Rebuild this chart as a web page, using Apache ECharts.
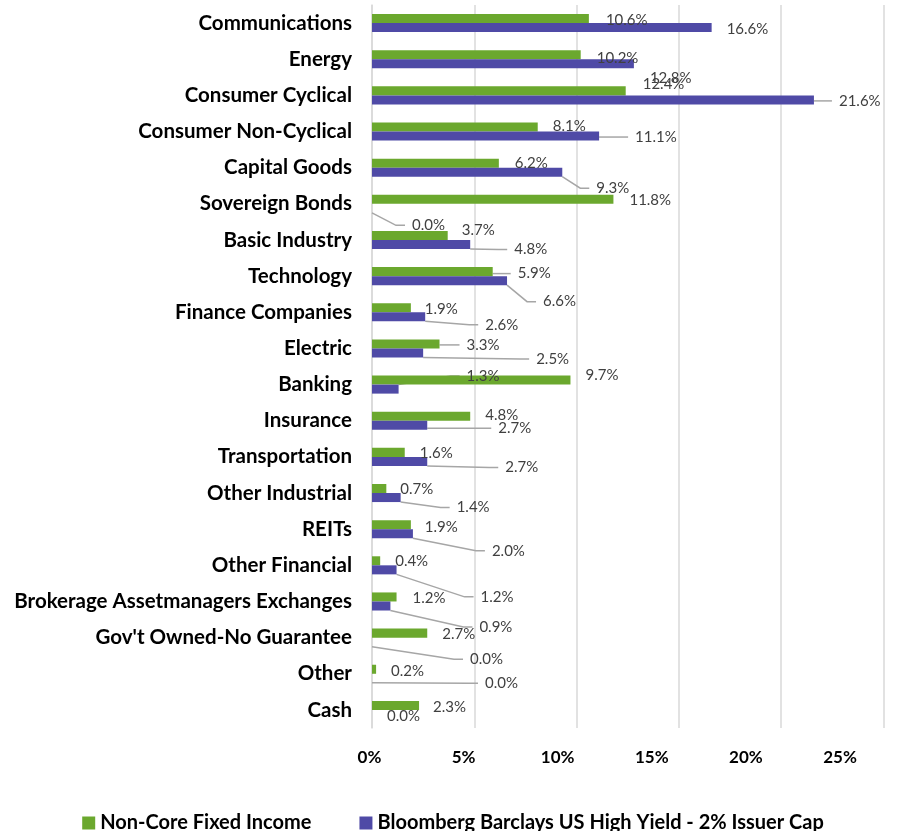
<!DOCTYPE html>
<html>
<head>
<meta charset="utf-8">
<script src="https://cdn.jsdelivr.net/npm/echarts@6/dist/echarts.min.js"></script>
<style>
html,body{margin:0;padding:0;background:#fff;}
#chart{width:906px;height:831px;}
</style>
</head>
<body>
<div id="chart"></div>
<script>
const categories = ["Communications","Energy","Consumer Cyclical","Consumer Non-Cyclical","Capital Goods","Sovereign Bonds","Basic Industry","Technology","Finance Companies","Electric","Banking","Insurance","Transportation","Other Industrial","REITs","Other Financial","Brokerage Assetmanagers Exchanges","Gov't Owned-No Guarantee","Other","Cash"];
const seriesNames = ["Non-Core Fixed Income","Bloomberg Barclays US High Yield - 2% Issuer Cap"];
const nonCore = [10.6,10.2,12.4,8.1,6.2,11.8,3.7,5.9,1.9,3.3,9.7,4.8,1.6,0.7,1.9,0.4,1.2,2.7,0.2,2.3];
const benchmark = [16.6,12.8,21.6,11.1,9.3,0.0,4.8,6.6,2.6,2.5,1.3,2.7,2.7,1.4,2.0,1.2,0.9,0.0,0.0,0.0];
const xTicks = {min:0, max:25, interval:5};

// label offsets (dx, dy) from default position, emulating the moved labels
const PAD = 7;
const greenOffsets = [[12,1.5],[11,3],[12,-7],[10,-1],[11,0],[11,1],[9,-5],[20,2],[9,1],[22,1],[10,-5],[10,-1],[10,1],[9,1],[9,2],[10,0],[11,1],[10,1],[10,2],[9,2]];
const purpleOffsets = [[10,1.5],[11,14],[20,1],[31,1],[29,16],[35,17],[39,5],[31,21],[55,8],[108,6],[63,-13],[66,3],[73,6],[51,10],[74,17],[79,27],[84,21],[93,17],[108,5],[10,2]];
const greenLines = [0,0,0,0,0,0,0,1,0,1,0,0,0,0,0,0,0,0,0,0];
const purpleLines = [0,0,1,1,1,1,1,1,1,1,1,1,1,1,1,1,1,1,1,0];
const offsets = [greenOffsets, purpleOffsets];
const lineFlags = [greenLines, purpleLines];
const colors = ['#6BA82E','#4F4AA6'];

const chart = echarts.init(document.getElementById('chart'), null, {renderer:'canvas'});
function makeSeries(idx, values){
  return {
    name: seriesNames[idx],
    type: 'bar',
    xAxisIndex: 0,
    yAxisIndex: 0,
    data: values.map((v, i) => ({value: v, labelLine: {show: !!lineFlags[idx][i]}})),
    barGap: '0%',
    barCategoryGap: '50%',
    itemStyle: {color: colors[idx]},
    label: {
      show: true,
      position: 'right',
      distance: 5,
      padding: [0, 0, 0, PAD],
      backgroundColor: 'rgba(255,255,255,0)',
      fontFamily: 'Lato',
      fontSize: 15,
      color: '#404040',
      formatter: p => p.value.toFixed(1) + '%'
    },
    labelLine: {show: true, length2: 9, lineStyle: {color: '#a6a6a6', width: 1.5}},
    labelLayout: function(params){
      const o = offsets[idx][params.dataIndex];
      return {dx: o[0] - PAD, dy: o[1]};
    }
  };
}
const option = {
  animation: false,
  color: colors,
  grid: [
    {left: 372, right: 22.5, top: 5, bottom: 103, containLabel: false},
    {left: 369.5, right: 66, top: 5, bottom: 103, containLabel: false}
  ],
  xAxis: [{
    type: 'value', gridIndex: 0,
    min: xTicks.min, max: xTicks.max, interval: xTicks.interval,
    axisLine: {show: false},
    axisTick: {show: false},
    splitLine: {show: true, lineStyle: {color: '#d9d9d9', width: 1.5}},
    axisLabel: {show: false}
  }, {
    type: 'value', gridIndex: 1,
    min: xTicks.min, max: xTicks.max, interval: xTicks.interval,
    axisLine: {show: false},
    axisTick: {show: false},
    splitLine: {show: false},
    axisLabel: {formatter: '{value}%', fontFamily: 'Lato', fontWeight: 'bold', fontSize: 17, color: '#000', margin: 21}
  }],
  yAxis: [{
    type: 'category', gridIndex: 0,
    data: categories,
    inverse: true,
    axisLine: {show: true, lineStyle: {color: '#d9d9d9', width: 1.5}},
    axisTick: {show: false},
    axisLabel: {fontFamily: 'Lato', fontWeight: 'bold', fontSize: 20.5, color: '#000', margin: 20}
  }, {
    type: 'value', gridIndex: 1, show: false
  }],
  legend: {
    data: seriesNames,
    left: 'center',
    top: 808,
    icon: 'rect',
    itemWidth: 13,
    itemHeight: 13,
    itemGap: 48,
    textStyle: {fontFamily: 'Lato', fontWeight: 'bold', fontSize: 20, color: '#000'}
  },
  series: [makeSeries(0, nonCore), makeSeries(1, benchmark)]
};
chart.setOption(option);
</script>
</body>
</html>
